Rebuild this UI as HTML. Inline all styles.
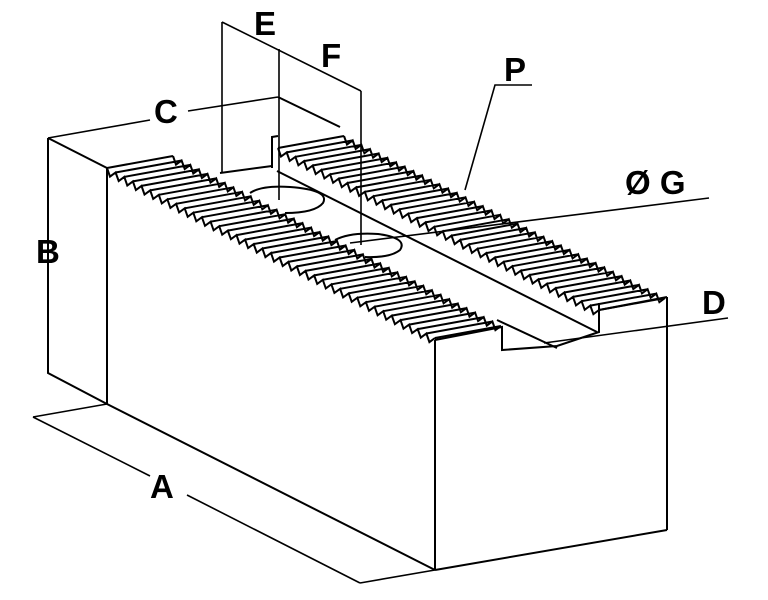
<!DOCTYPE html>
<html><head><style>
html,body{margin:0;padding:0;background:#fff;}
svg{display:block}
text{font-family:"Liberation Sans",Arial,sans-serif;font-weight:bold;fill:#000}
</style></head><body>
<svg id="s" width="768" height="600" viewBox="0 0 768 600" xmlns="http://www.w3.org/2000/svg">
<g fill="none" stroke="#000" stroke-width="2" stroke-linejoin="miter">
<polyline points="48,138 48,373 107,404"/>
<line x1="48" y1="138" x2="107" y2="168"/>
<line x1="107" y1="168" x2="107" y2="404"/>
<line x1="107" y1="404" x2="435" y2="570"/>
<line x1="435" y1="340" x2="435" y2="570"/>
<polyline points="435,340 502,327 502,350 557,346 599,332 599,303"/>
<line x1="599" y1="310" x2="667" y2="297"/>
<line x1="667" y1="297" x2="667" y2="530"/>
<line x1="435" y1="570" x2="667" y2="530"/>
<line x1="277" y1="171" x2="597" y2="332"/>
<line x1="220" y1="173" x2="272" y2="166"/>
<polyline points="272,168 272,137 278,136"/>
<line x1="497" y1="320" x2="557" y2="348"/>
<line x1="278" y1="97" x2="340" y2="127"/>
<path d="M250,193 Q262,185 290,187 Q330,190 323,203 Q315,213 285,213"/>
<path d="M335,240 Q350,232 378,234 Q408,238 400,250 Q390,258 365,257"/>
<g id="teeth" stroke-width="2"></g>
<g stroke-width="1.6">
<line x1="222" y1="22" x2="222" y2="173"/>
<line x1="279" y1="49" x2="279" y2="200"/>
<line x1="361" y1="91" x2="361" y2="245"/>
<line x1="222" y1="22" x2="361" y2="91"/>
<line x1="48" y1="138" x2="150" y2="120"/>
<line x1="188" y1="111" x2="278" y2="97"/>
<line x1="48" y1="138" x2="48" y2="230"/>
<line x1="48" y1="268" x2="48" y2="373"/>
<line x1="33" y1="417" x2="107" y2="404"/>
<line x1="33" y1="417" x2="150" y2="476"/>
<line x1="187" y1="495" x2="360" y2="583"/>
<line x1="360" y1="583" x2="435" y2="570"/>
<polyline points="465,190 495,85 532,85"/>
<line x1="350" y1="243" x2="709" y2="198"/>
<line x1="544" y1="343" x2="728" y2="318"/>
</g>
</g>
<text x="254" y="35" font-size="33">E</text>
<text x="321" y="67" font-size="33">F</text>
<text x="154" y="123" font-size="33">C</text>
<text x="36" y="263" font-size="33">B</text>
<text x="150" y="498" font-size="33">A</text>
<text x="504" y="81" font-size="33">P</text>
<text x="625" y="194" font-size="33">Ø G</text>
<text x="702" y="314" font-size="33">D</text>
</svg>
<script>
function strip(p0,p1,u,n){
  var g=document.getElementById('teeth'),d='';
  var sx=(p1[0]-p0[0])/n, sy=(p1[1]-p0[1])/n;
  var e1='M'+p0[0]+','+p0[1], e2='M'+(p0[0]+u[0])+','+(p0[1]+u[1]);
  for(var i=0;i<n;i++){
    var x=p0[0]+sx*i, y=p0[1]+sy*i;
    var xa=x+sx*0.35, ya=y+sy*0.35+7;
    var xb=x+sx, yb=y+sy;
    e1+=' L'+xa.toFixed(1)+','+ya.toFixed(1)+' L'+xb.toFixed(1)+','+yb.toFixed(1);
    e2+=' L'+(xa+u[0]).toFixed(1)+','+(ya+u[1]).toFixed(1)+' L'+(xb+u[0]).toFixed(1)+','+(yb+u[1]).toFixed(1);
    d+=' M'+xb.toFixed(1)+','+yb.toFixed(1)+' l'+u[0]+','+u[1];
  }
  d+=' M'+p0[0]+','+p0[1]+' l'+u[0]+','+u[1];
  var a=document.createElementNS('http://www.w3.org/2000/svg','path');
  a.setAttribute('d',e1+' '+e2+d);g.appendChild(a);
}
strip([107,168],[435,338],[66,-12],38);
strip([278,148],[599,310],[66,-12],37);
</script>
</body></html>
